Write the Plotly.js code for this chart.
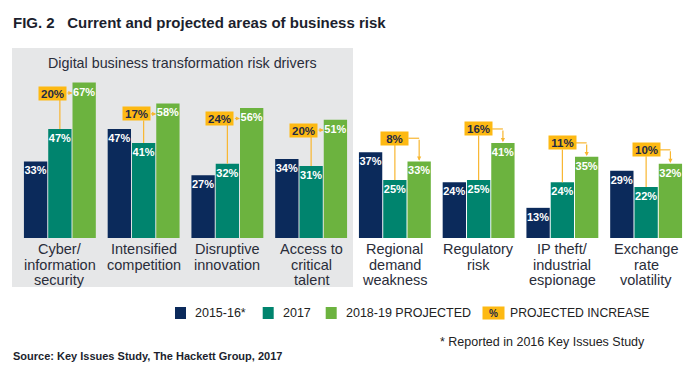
<!DOCTYPE html>
<html><head><meta charset="utf-8">
<script src="https://cdn.plot.ly/plotly-3.0.1.min.js"></script>
<style>html,body{margin:0;padding:0;background:#fff}</style>
</head><body><div id="chart" style="width:700px;height:372px"></div>
<script>
// ---------- data ----------
const categories = [
  'Cyber/<br>information<br>security',
  'Intensified<br>competition',
  'Disruptive<br>innovation',
  'Access to<br>critical<br>talent',
  'Regional<br>demand<br>weakness',
  'Regulatory<br>risk',
  'IP theft/<br>industrial<br>espionage',
  'Exchange<br>rate<br>volatility'
];
const seriesNames = ['2015-16*', '2017', '2018-19 PROJECTED'];
const values2015 = [33, 47, 27, 34, 37, 24, 13, 29];
const values2017 = [47, 41, 32, 31, 25, 25, 24, 22];
const values2019 = [67, 58, 56, 51, 33, 41, 35, 32];
const projectedIncrease = [20, 17, 24, 20, 8, 16, 11, 10];
const increaseLabel = 'PROJECTED INCREASE';
const digitalCount = 4;
const panelTitle = 'Digital business transformation risk drivers';
const chartTitle = 'FIG. 2\u00a0\u00a0\u00a0Current and projected areas of business risk';
const footnote = '* Reported in 2016 Key Issues Study';
const sourceText = 'Source: Key Issues Study, The Hackett Group, 2017';

// ---------- styles ----------
const W = 700, H = 372;
const colors = ['#0b2a5b', '#00846e', '#6cb33f'];
const yellow = '#fdb913';
const lineCol = '#f8b630';
const textCol = '#2a2d3a';
const FONT = 'Liberation Sans, Arial, sans-serif';
const px = x => x / W;
const py = y => (H - y) / H;

const plotL = 18, plotR = 688, plotT = 6, plotB = 238;
const unitX = (plotR - plotL) / 8;        // px per category
const unitY = (plotB - plotT) / 100;      // px per percent
const slot = 0.29;                         // offset between bars in a group
const barHalf = slot * 0.96 / 2;

const idx = categories.map((_, i) => i);
const series = [values2015, values2017, values2019];

const traces = series.map((vals, s) => ({
  type: 'bar',
  name: seriesNames[s],
  x: idx,
  y: vals,
  marker: { color: colors[s], line: { width: 0 } },
  text: vals.map(v => v + '%'),
  textposition: 'inside',
  insidetextanchor: 'end',
  textangle: 0,
  constraintext: 'none',
  textfont: { family: FONT, size: 11, color: '#ffffff', weight: 'bold' },
  hoverinfo: 'skip'
}));

const shapes = [];
const annotations = [];

// gray panel for digital drivers
shapes.push({ type: 'rect', xref: 'paper', yref: 'paper', x0: px(12), x1: px(353), y0: py(287), y1: py(48),
  fillcolor: '#e6e7e8', line: { width: 0 }, layer: 'below' });
annotations.push({ xref: 'paper', yref: 'paper', x: px(182), y: py(63), text: panelTitle, showarrow: false,
  xanchor: 'center', yanchor: 'middle', font: { family: FONT, size: 14.3, color: textCol } });

// title
annotations.push({ xref: 'paper', yref: 'paper', x: px(11), y: py(23), text: '<b>' + chartTitle + '</b>', showarrow: false,
  xanchor: 'left', yanchor: 'middle', font: { family: FONT, size: 15, color: '#1c1f2e' } });

// category labels (one annotation per line)
categories.forEach((c, i) => {
  c.split('<br>').forEach((line, k) => {
    annotations.push({ xref: 'x', yref: 'paper', x: i, y: py(249.5 + 15 * k), text: line, showarrow: false,
      xanchor: 'center', yanchor: 'middle', font: { family: FONT, size: 14.5, color: textCol } });
  });
});

// projected increase callouts
const boxHalfW = 13.5 / unitX;
const boxHalfH = 6.5 / unitY;
idx.forEach(i => {
  const t = values2017[i], g = values2019[i], n = values2015[i];
  const digital = i < digitalCount;
  const boxY = digital ? g - 4.5 : Math.max(n, t, g) + 6;
  const boxX = digital ? i - 0.09 : i;
  // vertical connector from teal bar to box
  shapes.push({ type: 'line', xref: 'x', yref: 'y', x0: i, x1: i, y0: t, y1: boxY - boxHalfH,
    line: { color: lineCol, width: 1.2 }, layer: 'above' });
  if (digital) {
    annotations.push({ xref: 'x', yref: 'y', axref: 'x', ayref: 'y', x: i + slot - barHalf, y: boxY,
      ax: boxX + boxHalfW, ay: boxY, text: '', showarrow: true, arrowhead: 2, arrowsize: 0.7,
      arrowwidth: 1.2, arrowcolor: lineCol, standoff: 0, startstandoff: 0 });
  } else {
    shapes.push({ type: 'line', xref: 'x', yref: 'y', x0: boxX + boxHalfW, x1: i + slot, y0: boxY, y1: boxY,
      line: { color: lineCol, width: 1.2 }, layer: 'above' });
    annotations.push({ xref: 'x', yref: 'y', axref: 'x', ayref: 'y', x: i + slot, y: g + 0.3,
      ax: i + slot, ay: boxY, text: '', showarrow: true, arrowhead: 2, arrowsize: 0.7,
      arrowwidth: 1.2, arrowcolor: lineCol, standoff: 0, startstandoff: 0 });
  }
  annotations.push({ xref: 'x', yref: 'y', x: boxX, y: boxY, text: '<b>' + projectedIncrease[i] + '%</b>',
    showarrow: false, xanchor: 'center', yanchor: 'middle', bgcolor: yellow, borderpad: 1,
    width: 25, height: 11, font: { family: FONT, size: 11.5, color: '#1f2a44' } });
});

// custom legend
const legSq = [175, 262.7, 325.7];
const legTx = [193, 280.7, 344];
seriesNames.forEach((nm, s) => {
  shapes.push({ type: 'rect', xref: 'paper', yref: 'paper', x0: px(legSq[s]), x1: px(legSq[s] + 11),
    y0: py(319), y1: py(307), fillcolor: colors[s], line: { width: 0 } });
  annotations.push({ xref: 'paper', yref: 'paper', x: px(legTx[s]), y: py(313), text: nm, showarrow: false,
    xanchor: 'left', yanchor: 'middle', font: { family: FONT, size: 12.5, color: '#222' } });
});
annotations.push({ xref: 'paper', yref: 'paper', x: px(493.5), y: py(313), text: '<b>%</b>', showarrow: false,
  xanchor: 'center', yanchor: 'middle', bgcolor: yellow, width: 19, height: 10, borderpad: 1,
  font: { family: FONT, size: 10, color: '#1f2a44' } });
annotations.push({ xref: 'paper', yref: 'paper', x: px(508), y: py(313), text: increaseLabel, showarrow: false,
  xanchor: 'left', yanchor: 'middle', font: { family: FONT, size: 12.2, color: '#222' } });

// footnote & source
annotations.push({ xref: 'paper', yref: 'paper', x: px(647), y: py(342), text: footnote, showarrow: false,
  xanchor: 'right', yanchor: 'middle', font: { family: FONT, size: 12.5, color: '#222' } });
annotations.push({ xref: 'paper', yref: 'paper', x: px(11), y: py(356), text: '<b>' + sourceText + '</b>', showarrow: false,
  xanchor: 'left', yanchor: 'middle', font: { family: FONT, size: 11, color: '#1c1f2e' } });

const layout = {
  width: W, height: H,
  margin: { l: 0, r: 0, t: 0, b: 0 },
  paper_bgcolor: '#ffffff',
  plot_bgcolor: 'rgba(0,0,0,0)',
  showlegend: false,
  barmode: 'group',
  bargap: 0.13,
  bargroupgap: 0.04,
  xaxis: { domain: [px(plotL), px(plotR)], range: [-0.5, 7.5], showticklabels: false, showgrid: false,
    zeroline: false, showline: false, ticks: '', fixedrange: true },
  yaxis: { domain: [py(plotB), py(plotT)], range: [0, 100], visible: false, showgrid: false, zeroline: false, fixedrange: true },
  shapes: shapes,
  annotations: annotations
};

Plotly.newPlot('chart', traces, layout, { displayModeBar: false, staticPlot: true });
</script>
</body></html>
